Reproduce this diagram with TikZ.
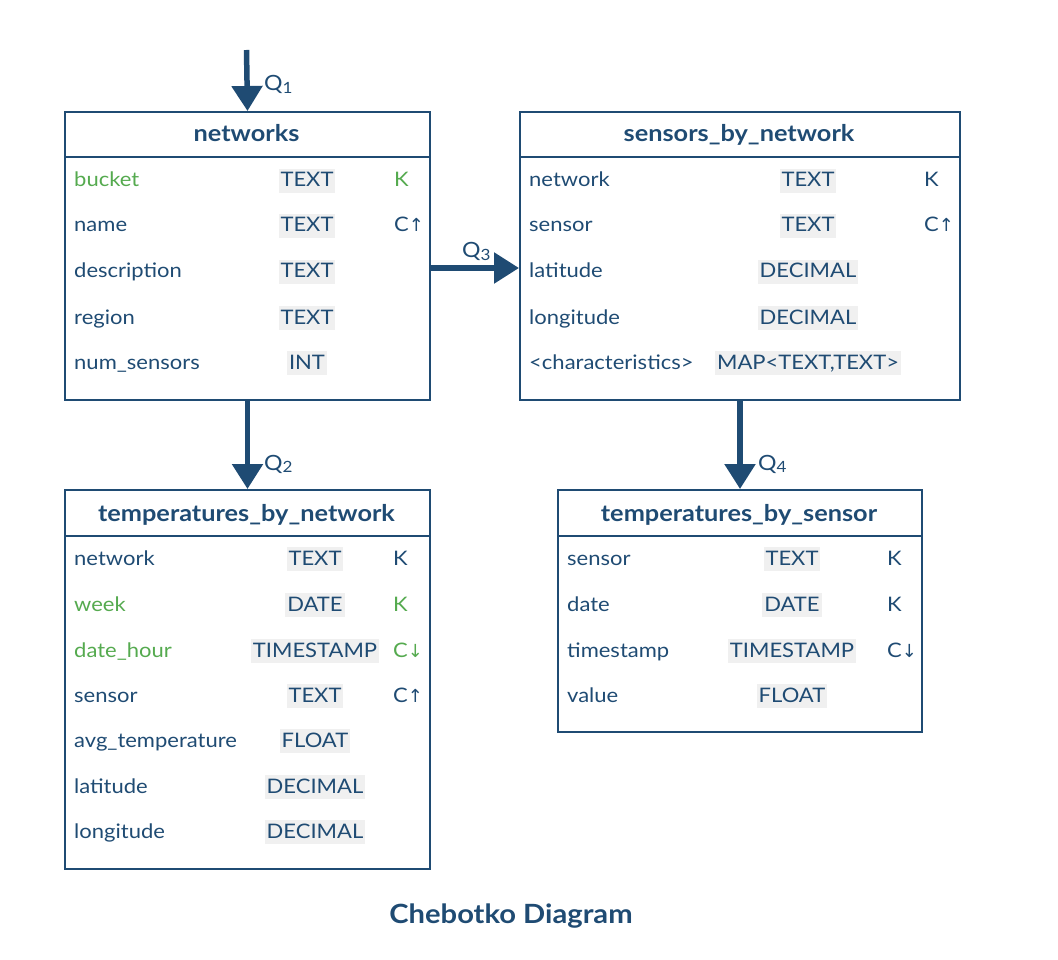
\documentclass[tikz,border=0pt]{standalone}
\usepackage{fontspec}
\setmainfont{Lato}[FakeStretch=1.1]
\newfontfamily\arrfont{DejaVu Sans}
\usetikzlibrary{arrows.meta,calc}
\definecolor{navy}{HTML}{1F4B73}
\definecolor{kgreen}{HTML}{55AA4F}
\definecolor{tbg}{HTML}{F0F0F0}
\newcommand\cols[3]{\def\xn{#1}\def\xt{#2}\def\xk{#3}}
\newcommand\trow[5][navy]{\node[fld,text=#1] (#2n) at (\xn,#3+7) {#4};\node[typ] (#2t) at (\xt,#3+7) {#5};}
\newcommand\tkey[4][navy]{\node[key,text=#1] (#2k) at (\xk,#3+7) {#4};}
\newcommand\up{C{\arrfont\fontsize{18}{24}\selectfont\char"2191}}
\newcommand\dn{C{\arrfont\fontsize{18}{24}\selectfont\char"2193}}
\newcommand\qsub[1]{Q\raisebox{-2.5pt}{\fontsize{15.5}{16}\selectfont #1}}
\begin{document}
\begin{tikzpicture}[x=1pt,y=-1pt,
  tbl/.style={draw=navy,line width=2pt,inner sep=0pt,anchor=north west},
  hdr/.style={font=\fontsize{23}{26}\selectfont\bfseries,text=navy,anchor=base,inner sep=0pt},
  fld/.style={font=\fontsize{20}{24}\selectfont,text=navy,anchor=base west,inner sep=0pt,text height=14pt,text depth=4pt},
  typ/.style={font=\fontsize{20}{24}\selectfont,text=navy,fill=tbg,anchor=base,inner xsep=2pt,inner ysep=3pt,text height=15pt,text depth=3pt},
  key/.style={font=\fontsize{20}{24}\selectfont,anchor=base west,inner sep=0pt,text height=14pt,text depth=4pt},
  flow/.style={draw=navy,line width=5.5pt,-{Triangle[width=30pt,length=25pt]}},
  ql/.style={font=\fontsize{21}{24}\selectfont,text=navy,anchor=base west,inner sep=0pt}]
\useasboundingbox (0,0) rectangle (1058,960);
% tables
\node[tbl,minimum width=365pt,minimum height=288pt] (networks) at (64,111) {};
\node[tbl,minimum width=440pt,minimum height=288pt] (sbn) at (519,111) {};
\node[tbl,minimum width=365pt,minimum height=379pt] (tbn) at (64,489) {};
\node[tbl,minimum width=364pt,minimum height=242pt] (tbs) at (557,489) {};
% header separators
\draw[navy,line width=2pt] ($(networks.north west)+(0,46)$) -- ($(networks.north east)+(0,46)$);
\draw[navy,line width=2pt] ($(sbn.north west)+(0,46)$) -- ($(sbn.north east)+(0,46)$);
\draw[navy,line width=2pt] ($(tbn.north west)+(0,47)$) -- ($(tbn.north east)+(0,47)$);
\draw[navy,line width=2pt] ($(tbs.north west)+(0,47)$) -- ($(tbs.north east)+(0,47)$);
% headers
\node[hdr] (h1) at (246.5,142) {networks};
\node[hdr] (h2) at (739,142) {sensors\_by\_network};
\node[hdr] (h3) at (246.5,521) {temperatures\_by\_network};
\node[hdr] (h4) at (739,521) {temperatures\_by\_sensor};
% networks rows
\cols{74}{307}{394}
\trow[kgreen]{a1}{180}{bucket}{TEXT}\tkey[kgreen]{a1}{180}{K}
\trow{a2}{225}{name}{TEXT}\tkey{a2}{225}{\up}
\trow{a3}{271}{description}{TEXT}
\trow{a4}{317}{region}{TEXT}
\trow{a5}{362}{num\_sensors}{INT}
% sensors_by_network rows
\cols{529}{808}{924}
\trow{b1}{180}{network}{TEXT}\tkey{b1}{180}{K}
\trow{b2}{225}{sensor}{TEXT}\tkey{b2}{225}{\up}
\trow{b3}{271}{latitude}{DECIMAL}
\trow{b4}{317}{longitude}{DECIMAL}
\trow{b5}{362}{<characteristics>}{MAP<TEXT,TEXT>}
% temperatures_by_network rows
\cols{74}{315}{393}
\trow{c1}{558}{network}{TEXT}\tkey{c1}{558}{K}
\trow[kgreen]{c2}{604}{week}{DATE}\tkey[kgreen]{c2}{604}{K}
\trow[kgreen]{c3}{650}{date\_hour}{TIMESTAMP}\tkey[kgreen]{c3}{650}{\dn}
\trow{c4}{695}{sensor}{TEXT}\tkey{c4}{695}{\up}
\trow{c5}{740}{avg\_temperature}{FLOAT}
\trow{c6}{786}{latitude}{DECIMAL}
\trow{c7}{831}{longitude}{DECIMAL}
% temperatures_by_sensor rows
\cols{567}{792}{887}
\trow{d1}{558}{sensor}{TEXT}\tkey{d1}{558}{K}
\trow{d2}{604}{date}{DATE}\tkey{d2}{604}{K}
\trow{d3}{650}{timestamp}{TIMESTAMP}\tkey{d3}{650}{\dn}
\trow{d4}{695}{value}{FLOAT}
% flows
\coordinate (q1s) at (246.5,50);
\coordinate (q3y) at (0,268);
\draw[flow] (q1s) -- (networks.north);
\draw[flow] (networks.south) -- (tbn.north);
\draw[flow] (networks.east |- q3y) -- (sbn.west |- q3y);
\draw[flow] (sbn.south) -- (tbs.north);
\node[ql] (q1) at (264,91) {\qsub{1}};
\node[ql] (q2) at (264,470) {\qsub{2}};
\node[ql] (q3) at (462,258) {\qsub{3}};
\node[ql] (q4) at (758,470) {\qsub{4}};
% title
\node[font=\fontsize{26.5}{30}\selectfont\bfseries,text=navy,anchor=base,inner sep=0pt] (title) at (511,923) {Chebotko Diagram};
\end{tikzpicture}
\end{document}
